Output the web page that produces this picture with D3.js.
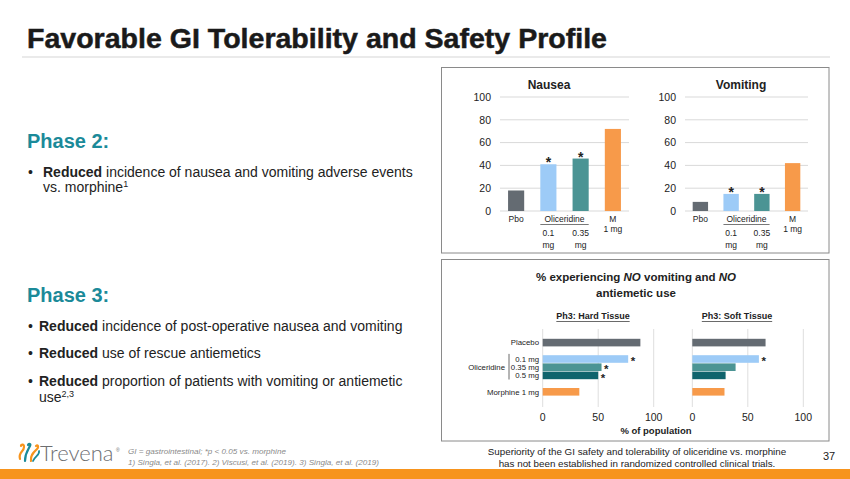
<!DOCTYPE html>
<html><head><meta charset="utf-8">
<script src="https://cdn.jsdelivr.net/npm/d3@7"></script>
<style>body{margin:0;background:#fff;} svg{display:block;font-family:"Liberation Sans",Arial,sans-serif;}</style>
</head><body><svg id="c" width="850" height="479"></svg>
<script>
// ---------- DATA ----------
const p2Categories = ["Pbo", "0.1 mg", "0.35 mg", "M 1 mg"];
const nauseaValues = [18, 41, 46, 72];
const vomitingValues = [8, 15, 15, 42];
const p2Significant = [false, true, true, false];
const p2YTicks = [0, 20, 40, 60, 80, 100];
const p3Groups = ["Placebo", "0.1 mg", "0.35 mg", "0.5 mg", "Morphine 1 mg"];
const hardTissueValues = [88, 77, 53, 50, 33];
const softTissueValues = [66, 60, 39, 30, 29];
const hardSignificant = [false, true, true, true, false];
const softSignificant = [false, true, false, false, false];
const p3XTicks = [0, 50, 100];

const groupColors = {"Pbo":"#646B72","0.1 mg":"#9DCBF7","0.35 mg":"#4B9494","M 1 mg":"#F79A4A",
  "Placebo":"#646B72","0.5 mg":"#10646D","Morphine 1 mg":"#F79A4A"};

const svg = d3.select("#c");
const TXT = "#222";

// ---------- TITLE ----------
svg.append("text").attr("x", 27).attr("y", 48)
  .attr("font-family", "'Liberation Sans Narrow', 'Arial Narrow', sans-serif")
  .attr("font-weight", "bold").attr("font-size", 27).attr("fill", "#1a1a1a")
  .attr("stroke", "#1a1a1a").attr("stroke-width", 0.5)
  .attr("textLength", 580).attr("lengthAdjust", "spacingAndGlyphs")
  .text("Favorable GI Tolerability and Safety Profile");
svg.append("line").attr("x1", 22).attr("x2", 830).attr("y1", 57).attr("y2", 57)
  .attr("stroke", "#e3e3e3").attr("stroke-width", 1.5);

// ---------- LEFT TEXT ----------
const TEAL = "#1B8A99";
svg.append("text").attr("x", 27).attr("y", 148).attr("font-size", 20).attr("font-weight", "bold")
  .attr("fill", TEAL).text("Phase 2:");
function bullet(x, bx, y, rest) {
  svg.append("text").attr("x", bx).attr("y", y).attr("font-size", 14).attr("fill", TXT).text("•");
  const t = svg.append("text").attr("x", x).attr("y", y).attr("font-size", 14).attr("fill", TXT);
  t.append("tspan").attr("font-weight", "bold").text("Reduced");
  t.append("tspan").text(" " + rest);
}
bullet(43, 28, 176.5, "incidence of nausea and vomiting adverse events");
{
  const t = svg.append("text").attr("x", 43).attr("y", 192).attr("font-size", 14).attr("fill", TXT);
  t.append("tspan").text("vs. morphine");
  t.append("tspan").attr("font-size", 9).attr("dy", -5).text("1");
}
svg.append("text").attr("x", 27).attr("y", 301.5).attr("font-size", 20).attr("font-weight", "bold")
  .attr("fill", TEAL).text("Phase 3:");
bullet(39, 28, 331, "incidence of post-operative nausea and vomiting");
bullet(39, 28, 358, "use of rescue antiemetics");
bullet(39, 28, 386, "proportion of patients with vomiting or antiemetic");
{
  const t = svg.append("text").attr("x", 39).attr("y", 402).attr("font-size", 14).attr("fill", TXT);
  t.append("tspan").text("use");
  t.append("tspan").attr("font-size", 9).attr("dy", -5).text("2,3");
}

// ---------- PANELS ----------
svg.append("rect").attr("x", 441.5).attr("y", 67.5).attr("width", 387.5).attr("height", 185.5)
  .attr("fill", "none").attr("stroke", "#8a8a8a").attr("stroke-width", 1);
svg.append("rect").attr("x", 441.5).attr("y", 259.5).attr("width", 387.5).attr("height", 181.5)
  .attr("fill", "none").attr("stroke", "#8a8a8a").attr("stroke-width", 1);

// ---------- PHASE 2 VERTICAL BAR CHARTS ----------
function vChart(title, values, x0, x1, titleX) {
  const g = svg.append("g");
  const y = d3.scaleLinear().domain([0, 100]).range([211, 97]);
  const x = d3.scaleBand().domain(p2Categories).range([x0, x1]).paddingInner(0.5).paddingOuter(0.25);
  g.selectAll("line.grid").data(p2YTicks).join("line")
    .attr("x1", x0).attr("x2", x1).attr("y1", d => y(d)).attr("y2", d => y(d))
    .attr("stroke", "#d9d9d9").attr("stroke-width", 1);
  g.selectAll("text.tick").data(p2YTicks).join("text")
    .attr("x", x0 - 9).attr("y", d => y(d) + 3.8).attr("text-anchor", "end")
    .attr("font-size", 10.5).attr("fill", TXT).text(d => d);
  g.append("text").attr("x", titleX).attr("y", 89).attr("text-anchor", "middle")
    .attr("font-size", 12).attr("font-weight", "bold").attr("fill", TXT).text(title);
  g.selectAll("rect.bar").data(values).join("rect")
    .attr("x", (d, i) => x(p2Categories[i])).attr("width", x.bandwidth())
    .attr("y", d => y(d)).attr("height", d => y(0) - y(d))
    .attr("fill", (d, i) => groupColors[p2Categories[i]]);
  values.forEach((v, i) => {
    if (!p2Significant[i]) return;
    g.append("text").attr("x", x(p2Categories[i]) + x.bandwidth() / 2).attr("y", y(v) + 3)
      .attr("text-anchor", "middle").attr("font-size", 14).attr("font-weight", "bold")
      .attr("fill", TXT).text("*");
  });
  const cx = c => x(c) + x.bandwidth() / 2;
  const fs = 8.5;
  g.append("text").attr("x", cx("Pbo")).attr("y", 222).attr("text-anchor", "middle")
    .attr("font-size", fs).attr("fill", TXT).text("Pbo");
  g.append("text").attr("x", (cx("0.1 mg") + cx("0.35 mg")) / 2).attr("y", 222).attr("text-anchor", "middle")
    .attr("font-size", fs).attr("fill", TXT).text("Oliceridine");
  g.append("line").attr("x1", x("0.1 mg")).attr("x2", x("0.35 mg") + x.bandwidth())
    .attr("y1", 224.5).attr("y2", 224.5).attr("stroke", "#555").attr("stroke-width", 0.8);
  ["0.1 mg", "0.35 mg"].forEach(c => {
    const p = c.split(" ");
    g.append("text").attr("x", cx(c)).attr("y", 236).attr("text-anchor", "middle")
      .attr("font-size", fs).attr("fill", TXT).text(p[0]);
    g.append("text").attr("x", cx(c)).attr("y", 247.5).attr("text-anchor", "middle")
      .attr("font-size", fs).attr("fill", TXT).text(p[1]);
  });
  g.append("text").attr("x", cx("M 1 mg")).attr("y", 222).attr("text-anchor", "middle")
    .attr("font-size", fs).attr("fill", TXT).text("M");
  g.append("text").attr("x", cx("M 1 mg")).attr("y", 232).attr("text-anchor", "middle")
    .attr("font-size", fs).attr("fill", TXT).text("1 mg");
}
vChart("Nausea", nauseaValues, 500, 629, 549);
vChart("Vomiting", vomitingValues, 685, 808, 741);

// ---------- PHASE 3 HORIZONTAL BAR CHARTS ----------
svg.append("text").attr("x", 636).attr("y", 281).attr("text-anchor", "middle")
  .attr("font-size", 11.5).attr("font-weight", "bold").attr("fill", TXT)
  .call(t => {
    t.append("tspan").text("% experiencing ");
    t.append("tspan").attr("font-style", "italic").text("NO");
    t.append("tspan").text(" vomiting and ");
    t.append("tspan").attr("font-style", "italic").text("NO");
  });
svg.append("text").attr("x", 636).attr("y", 297).attr("text-anchor", "middle")
  .attr("font-size", 11.5).attr("font-weight", "bold").attr("fill", TXT).text("antiemetic use");

const slots = ["Placebo", "_g1", "0.1 mg", "0.35 mg", "0.5 mg", "_g2", "Morphine 1 mg"];
const yB = d3.scaleBand().domain(slots).range([338.5, 338.5 + 7 * 8.2]).padding(0);

function hChart(title, values, sig, x0, x1, titleX) {
  const g = svg.append("g");
  const x = d3.scaleLinear().domain([0, 100]).range([x0, x1]);
  g.selectAll("line.grid").data(p3XTicks).join("line")
    .attr("x1", d => x(d)).attr("x2", d => x(d)).attr("y1", 329).attr("y2", 407)
    .attr("stroke", "#dedede").attr("stroke-width", 1);
  g.selectAll("text.tick").data(p3XTicks).join("text")
    .attr("x", d => x(d)).attr("y", 420.5).attr("text-anchor", "middle")
    .attr("font-size", 10.5).attr("fill", TXT).text(d => d);
  const tt = g.append("text").attr("x", titleX).attr("y", 319).attr("text-anchor", "middle")
    .attr("font-size", 9).attr("font-weight", "bold").attr("fill", TXT).text(title);
  const w = tt.node().getComputedTextLength();
  g.append("line").attr("x1", titleX - w / 2).attr("x2", titleX + w / 2)
    .attr("y1", 321.5).attr("y2", 321.5).attr("stroke", "#444").attr("stroke-width", 0.8);
  g.selectAll("rect.bar").data(values).join("rect")
    .attr("x", x(0)).attr("width", d => x(d) - x(0))
    .attr("y", (d, i) => yB(p3Groups[i]) + 0.3).attr("height", yB.bandwidth() - 0.6)
    .attr("fill", (d, i) => groupColors[p3Groups[i]]);
  values.forEach((v, i) => {
    if (!sig[i]) return;
    g.append("text").attr("x", x(v) + 2.5).attr("y", yB(p3Groups[i]) + 10.3)
      .attr("font-size", 11.5).attr("font-weight", "bold").attr("fill", TXT).text("*");
  });
  return x;
}
hChart("Ph3: Hard Tissue", hardTissueValues, hardSignificant, 542.7, 653.7, 593);
hChart("Ph3: Soft Tissue", softTissueValues, softSignificant, 692.3, 803.3, 737);

// category labels for Phase 3
const lx = 539;
const lfs = 7.8;
p3Groups.forEach(gname => {
  svg.append("text").attr("x", lx).attr("y", yB(gname) + yB.bandwidth() / 2 + 2.8)
    .attr("text-anchor", "end").attr("font-size", lfs).attr("fill", TXT).text(gname);
});
svg.append("text").attr("x", 505).attr("y", yB("0.35 mg") + yB.bandwidth() / 2 + 2.8)
  .attr("text-anchor", "end").attr("font-size", lfs).attr("fill", TXT).text("Oliceridine");
svg.append("line").attr("x1", 509).attr("x2", 509)
  .attr("y1", yB("0.1 mg") - 1).attr("y2", yB("0.5 mg") + yB.bandwidth())
  .attr("stroke", "#444").attr("stroke-width", 0.8);
svg.append("text").attr("x", 656).attr("y", 434).attr("text-anchor", "middle")
  .attr("font-size", 9.5).attr("font-weight", "bold").attr("fill", TXT).text("% of population");

// ---------- FOOTER ----------
svg.append("rect").attr("x", 0).attr("y", 469).attr("width", 850).attr("height", 10).attr("fill", "#F7941D");
// logo icon
const lg = svg.append("g").attr("fill", "none").attr("stroke-linecap", "round");
lg.append("path").attr("d", "M20,459 C18,452 24,452 24,447 C24,444 21,444 21,446").attr("stroke", "#F7941D").attr("stroke-width", 2.2);
lg.append("path").attr("d", "M25,461 C25,453 28,450 30,446 C31,444 29,443 28,445").attr("stroke", "#1B8A99").attr("stroke-width", 2.2);
lg.append("path").attr("d", "M31,461 C30,455 34,452 37,449 C39,447 38,444 36,446").attr("stroke", "#F7941D").attr("stroke-width", 2.2);
lg.append("path").attr("d", "M33,461 C35,456 40,455 39,451").attr("stroke", "#1B8A99").attr("stroke-width", 1.8);
svg.append("text").attr("x", 40).attr("y", 461).attr("font-family", "Lato, 'Open Sans', sans-serif")
  .attr("font-weight", 300).attr("font-size", 22).attr("fill", "#6D6E71").text("Trevena");
svg.append("text").attr("x", 116).attr("y", 452).attr("font-size", 5).attr("fill", "#6D6E71").text("®");

svg.append("text").attr("x", 128).attr("y", 454).attr("font-size", 8.1).attr("font-style", "italic")
  .attr("fill", "#8a8a8a").text("GI = gastrointestinal; *p < 0.05 vs. morphine");
svg.append("text").attr("x", 128).attr("y", 465).attr("font-size", 8.1).attr("font-style", "italic")
  .attr("fill", "#8a8a8a").text("1) Singla, et al. (2017).  2) Viscusi, et al. (2019).  3) Singla, et al. (2019)");

svg.append("text").attr("x", 637).attr("y", 455).attr("text-anchor", "middle")
  .attr("font-family", "'Liberation Sans Narrow', sans-serif").attr("font-size", 9.8).attr("fill", TXT)
  .text("Superiority of the GI safety and tolerability of oliceridine vs. morphine");
svg.append("text").attr("x", 637).attr("y", 467).attr("text-anchor", "middle")
  .attr("font-family", "'Liberation Sans Narrow', sans-serif").attr("font-size", 9.8).attr("fill", TXT)
  .text("has not been established in randomized controlled clinical trials.");
svg.append("text").attr("x", 829).attr("y", 460).attr("text-anchor", "middle")
  .attr("font-size", 11).attr("fill", TXT).text("37");
</script></body></html>
